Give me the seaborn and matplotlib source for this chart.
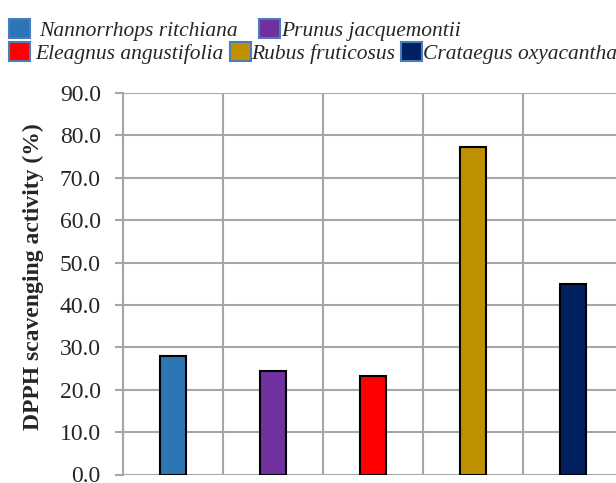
import matplotlib
matplotlib.use("Agg")
import matplotlib.pyplot as plt
import seaborn as sns
import pandas as pd
from matplotlib.patches import Patch

species = ["Nannorrhops ritchiana", "Prunus jacquemontii", "Eleagnus angustifolia",
           "Rubus fruticosus", "Crataegus oxyacantha"]
dpph = [28.0, 24.5, 23.2, 77.2, 45.0]
colors = ["#2E75B6", "#7030A0", "#FF0000", "#BF9000", "#002060"]
yticks = [0, 10, 20, 30, 40, 50, 60, 70, 80, 90]

sns.set_theme(style="white")
plt.rcParams['font.family'] = ['Liberation Serif', 'DejaVu Serif']

df = pd.DataFrame({"species": species, "dpph": dpph})

W, H = 616, 483
fig = plt.figure(figsize=(W / 100, H / 100), dpi=100)
ax = fig.add_axes([123 / W, 1 - 474.5 / H, 500 / W, (474.5 - 93) / H])

sns.barplot(data=df, x="species", y="dpph", hue="species", palette=colors,
            saturation=1, width=0.26, edgecolor="black", linewidth=1.5,
            legend=False, ax=ax, zorder=3)

ax.set_xlim(-0.5, 4.5)
ax.set_ylim(0, 90)
ax.set_yticks(yticks)
ax.set_yticklabels([f"{v:.1f}" for v in yticks], fontsize=17)
ax.set_xticks([i + 0.5 for i in range(-1, 5)])
ax.set_xticklabels([])
ax.tick_params(axis='x', length=0)
ax.tick_params(axis='y', length=6, width=1.5, color="#a6a6a6", pad=10, left=True)
ax.grid(True, axis='both', color="#a6a6a6", linewidth=1.5, zorder=0)
ax.set_axisbelow(True)
for s in ax.spines.values():
    s.set_visible(False)
ax.spines['left'].set_visible(True)
ax.spines['left'].set_color("#a6a6a6")
ax.spines['left'].set_linewidth(1.5)
ax.set_xlabel("")
ax.set_ylabel("DPPH scavenging activity (%)", fontsize=17, fontweight='bold')
ax.yaxis.set_label_coords(44 / W, 1 - 277 / H, transform=fig.transFigure)

# legend: one single-entry legend per item, placed as in the reference
legend_pos = [(9, 30, 0.42), (259, 30, 0.05), (9, 53, 0.23), (230, 53, 0.02), (401, 53, 0.02)]
for (x, yc, pad), c, name in zip(legend_pos, colors, species):
    h = Patch(facecolor=c, edgecolor="#4a7ebb", linewidth=1.5)
    fig.legend([h], [name], loc='center left', bbox_to_anchor=(x / W, 1 - yc / H),
               frameon=False, prop={'style': 'italic', 'size': 15.5},
               handlelength=0.98, handleheight=0.98, handletextpad=pad,
               borderpad=0, borderaxespad=0)

fig.savefig("out.png", dpi=100)
